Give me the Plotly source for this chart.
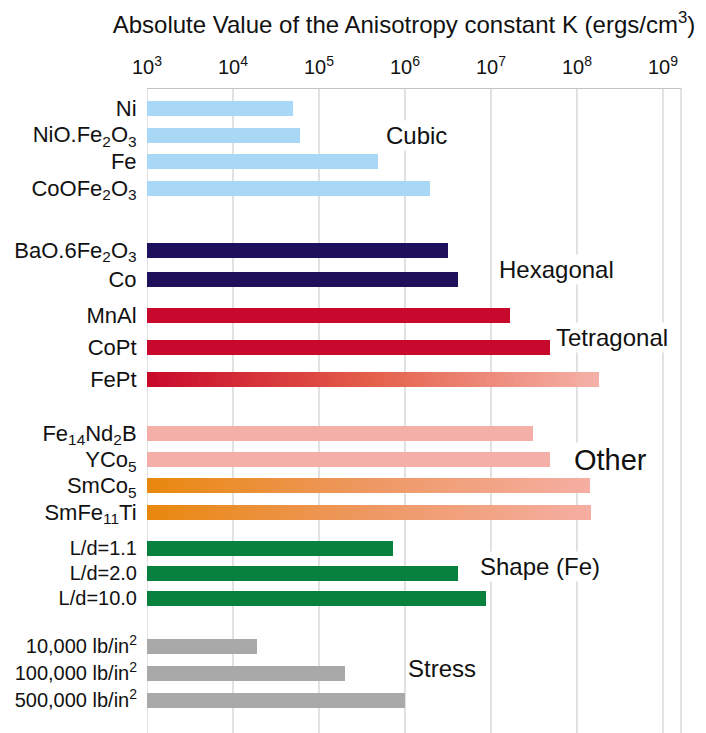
import plotly.graph_objects as go
import numpy as np

# ---------------- data ----------------
cubic_labels = ["Ni", "NiO.Fe<sub>2</sub>O<sub>3</sub>", "Fe", "CoOFe<sub>2</sub>O<sub>3</sub>"]
cubic_values = [5.0e4, 6.0e4, 4.8e5, 1.95e6]

hex_labels = ["BaO.6Fe<sub>2</sub>O<sub>3</sub>", "Co"]
hex_values = [3.2e6, 4.1e6]

tetra_labels = ["MnAl", "CoPt", "FePt"]
tetra_values = [1.65e7, 4.9e7, 1.8e8]

other_labels = ["Fe<sub>14</sub>Nd<sub>2</sub>B", "YCo<sub>5</sub>", "SmCo<sub>5</sub>", "SmFe<sub>11</sub>Ti"]
other_values = [3.1e7, 4.8e7, 1.4e8, 1.47e8]

shape_labels = ["L/d=1.1", "L/d=2.0", "L/d=10.0"]
shape_values = [7.3e5, 4.1e6, 8.7e6]

stress_labels = ["10,000 lb/in<sup>2</sup>", "100,000 lb/in<sup>2</sup>", "500,000 lb/in<sup>2</sup>"]
stress_values = [1.9e4, 2.0e5, 1.0e6]

tick_vals = [1e3, 1e4, 1e5, 1e6, 1e7, 1e8, 1e9]
tick_text = ["10<sup>3</sup>", "10<sup>4</sup>", "10<sup>5</sup>", "10<sup>6</sup>",
             "10<sup>7</sup>", "10<sup>8</sup>", "10<sup>9</sup>"]

group_names = ["Cubic", "Hexagonal", "Tetragonal", "Other", "Shape (Fe)", "Stress"]

# ---------------- layout helpers ----------------
OFF = 8  # page body margin in the browser
W, H = 706 - OFF, 733 - OFF
ML, MR, MT, MB = 147 - OFF, 25, 88 - OFF, 0
PW, PH = W - ML - MR, H - MT - MB


def py(px):
    return 1 - (px - OFF - MT) / PH


def pxx(px):
    return (px - OFF - ML) / PW


FONT = "Liberation Sans, Arial, Helvetica, sans-serif"

groups = [
    dict(labels=cubic_labels, values=cubic_values, color="#A8D8F5", first=108, sp=26.7, fs=22,
         grad=None),
    dict(labels=hex_labels, values=hex_values, color="#1E105A", first=250, sp=29, fs=22, grad=None),
    dict(labels=tetra_labels, values=tetra_values, color="#C8082C", first=315, sp=32, fs=22,
         grad={"FePt": [(200, 8, 42), (228, 96, 74), (245, 178, 168)]}),
    dict(labels=other_labels, values=other_values, color="#F4B0A8", first=433, sp=26.3, fs=22,
         grad={"SmCo<sub>5</sub>": [(233, 136, 14), (238, 152, 98), (245, 174, 162)],
               "SmFe<sub>11</sub>Ti": [(233, 136, 14), (238, 152, 98), (245, 174, 162)]}),
    dict(labels=shape_labels, values=shape_values, color="#08803E", first=548, sp=25, fs=20,
         grad=None),
    dict(labels=stress_labels, values=stress_values, color="#A9A9A9", first=646, sp=27, fs=20,
         grad=None),
]

BAR_PX = 15


def interp(stops, t):
    if t <= 0.5:
        a, b, u = stops[0], stops[1], t / 0.5
    else:
        a, b, u = stops[1], stops[2], (t - 0.5) / 0.5
    c = [round(a[i] + (b[i] - a[i]) * u) for i in range(3)]
    return "rgb(%d,%d,%d)" % tuple(c)


fig = go.Figure()
layout_axes = {}
for gi, g in enumerate(groups):
    yname = "y" if gi == 0 else "y%d" % (gi + 1)
    axkey = "yaxis" if gi == 0 else "yaxis%d" % (gi + 1)
    n = len(g["labels"])
    top = g["first"] - g["sp"] / 2
    bot = top + n * g["sp"]
    width = BAR_PX / g["sp"]
    grad = g["grad"] or {}
    plain_y = [l for l in g["labels"] if l not in grad]
    plain_x = [v for l, v in zip(g["labels"], g["values"]) if l not in grad]
    if plain_y:
        fig.add_trace(go.Bar(y=plain_y, x=plain_x, orientation="h", xaxis="x", yaxis=yname,
                             marker=dict(color=g["color"], line=dict(width=0)),
                             width=width, showlegend=False, hoverinfo="x+y"))
    for lab, val in zip(g["labels"], g["values"]):
        if lab in grad:
            N = 80
            edges = np.logspace(3, np.log10(val), N + 1)
            bases = edges[:-1]
            lens = edges[1:] * 1.004 - bases
            lens[-1] = edges[-1] - bases[-1]
            cols = [interp(grad[lab], (i + 0.5) / N) for i in range(N)]
            fig.add_trace(go.Bar(y=[lab] * N, x=lens, base=bases, orientation="h",
                                 xaxis="x", yaxis=yname,
                                 marker=dict(color=cols, line=dict(width=0)),
                                 width=width, showlegend=False, hoverinfo="skip"))
    layout_axes[axkey] = dict(
        domain=[py(bot), py(top)], type="category", categoryorder="array",
        categoryarray=g["labels"], range=[n - 0.5, -0.5], autorange=False,
        tickmode="array", tickvals=g["labels"], ticktext=g["labels"],
        showgrid=False, zeroline=False, automargin=False,
        showline=False, ticks="outside", ticklen=5, tickcolor="rgba(0,0,0,0)",
        tickfont=dict(family=FONT, size=g["fs"], color="#111111"), anchor="x",
        fixedrange=True)

shapes = []
for tv in tick_vals:
    shapes.append(dict(type="line", xref="x", yref="paper", x0=tv, x1=tv, y0=0, y1=1,
                       line=dict(color="#C4C4C4", width=1), layer="below"))
shapes.append(dict(type="line", xref="paper", yref="paper", x0=1, x1=1, y0=0, y1=1,
                   line=dict(color="#C4C4C4", width=1), layer="below"))

ann_pos = [(416, 135, 24), (556, 269, 24), (612, 337, 24), (610, 460, 29), (540, 566, 24),
           (442, 668, 24)]
annotations = []
for name, (ax_, ay_, fs) in zip(group_names, ann_pos):
    annotations.append(dict(text=name, x=pxx(ax_), y=py(ay_), xref="paper", yref="paper",
                            showarrow=False, xanchor="center", yanchor="middle",
                            bgcolor="white", borderpad=1,
                            font=dict(family=FONT, size=fs, color="#111111")))

fig.update_layout(
    width=W, height=H, margin=dict(l=ML, r=MR, t=MT, b=MB, autoexpand=False),
    paper_bgcolor="white", plot_bgcolor="white", barmode="overlay", bargap=0,
    title=dict(text="Absolute Value of the Anisotropy constant K (ergs/cm<sup>3</sup>)",
               x=(404 - OFF) / W, y=1 - (25 - OFF) / H, xref="container", yref="container",
               xanchor="center", yanchor="middle", automargin=False,
               font=dict(family=FONT, size=24, color="#111111")),
    xaxis=dict(type="log", range=[3, 9.21], side="top", anchor="free", position=1,
               showgrid=False, zeroline=False, showline=True, linecolor="#C4C4C4", linewidth=1,
               tickvals=tick_vals, ticktext=tick_text, ticks="outside", ticklen=6,
               tickcolor="rgba(0,0,0,0)", automargin=False,
               tickfont=dict(family=FONT, size=20, color="#111111"), fixedrange=True),
    shapes=shapes, annotations=annotations, showlegend=False,
    **layout_axes,
)

fig.write_html("out.html")
